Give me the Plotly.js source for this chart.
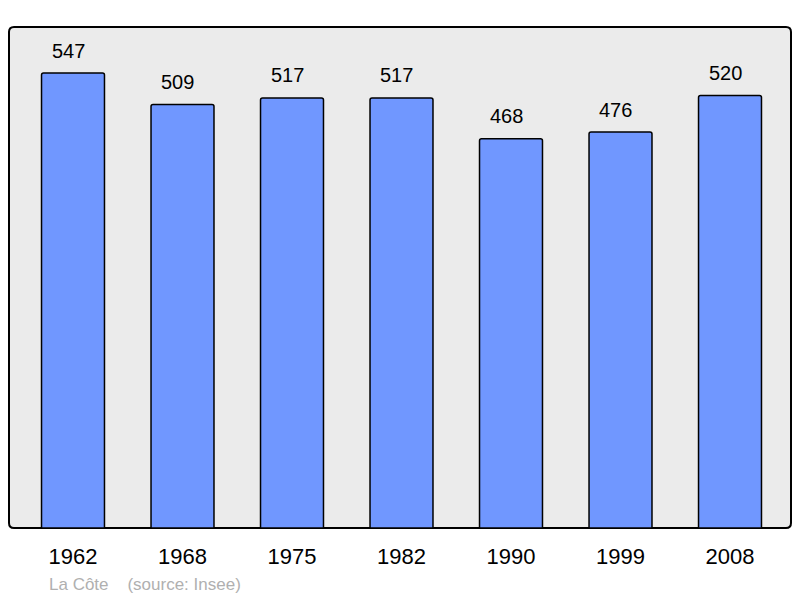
<!DOCTYPE html>
<html>
<head>
<meta charset="utf-8">
<script src="https://cdn.plot.ly/plotly-3.0.1.min.js"></script>
<style>html,body{margin:0;padding:0;background:#fff;}#chart{width:800px;height:598px;}</style>
</head>
<body>
<div id="chart"></div>
<script>
const years = ["1962", "1968", "1975", "1982", "1990", "1999", "2008"];
const population = [547, 509, 517, 517, 468, 476, 520];
const footerText = "La Côte&nbsp;&nbsp;&nbsp;&nbsp;(source: Insee)";

const positions = years.map((_, i) => i);

const W = 800, H = 598;
const margin = {l: 9, r: 9, t: 27, b: 70};
const pw = W - margin.l - margin.r, ph = H - margin.t - margin.b;
const rx = 5 / pw, ry = 5 / ph;
const roundedPath =
  `M ${rx} 0 L ${1 - rx} 0 Q 1 0 1 ${ry} L 1 ${1 - ry} Q 1 1 ${1 - rx} 1 ` +
  `L ${rx} 1 Q 0 1 0 ${1 - ry} L 0 ${ry} Q 0 0 ${rx} 0 Z`;

const trace = {
  type: "bar",
  x: positions,
  y: population,
  width: 0.575,
  marker: {color: "#7097ff", line: {color: "#000000", width: 1.5}, cornerradius: 2},
  hoverinfo: "none"
};

const valueLabels = population.map((v, i) => ({
  x: positions[i], y: v, xref: "x", yref: "y",
  text: String(v), showarrow: false,
  yanchor: "middle", yshift: 22.5, xshift: -5,
  font: {family: "Liberation Sans, Arial, sans-serif", size: 20, color: "#000"}
}));

const layout = {
  width: W, height: H,
  margin: margin,
  paper_bgcolor: "#ffffff",
  plot_bgcolor: "rgba(0,0,0,0)",
  showlegend: false,
  xaxis: {
    range: [-0.5845, 6.557],
    tickvals: positions,
    ticktext: years,
    ticks: "",
    showgrid: false, zeroline: false, showline: false,
    ticklabelstandoff: 13,
    tickfont: {family: "Liberation Sans, Arial, sans-serif", size: 22, color: "#000"},
    fixedrange: true
  },
  yaxis: {
    range: [0, 602.3],
    visible: false,
    showgrid: false, zeroline: false,
    fixedrange: true
  },
  shapes: [{
    type: "path", xref: "paper", yref: "paper",
    path: roundedPath,
    fillcolor: "#ebebeb",
    line: {color: "#000000", width: 2},
    layer: "below"
  }],
  annotations: valueLabels.concat([{
    xref: "paper", yref: "paper",
    x: (47 - margin.l) / pw, y: -56 / ph,
    xanchor: "left", yanchor: "middle",
    text: footerText, showarrow: false,
    font: {family: "Liberation Sans, Arial, sans-serif", size: 17, color: "#b0b0b0"}
  }])
};

Plotly.newPlot("chart", [trace], layout, {displayModeBar: false, staticPlot: true});
</script>
</body>
</html>
